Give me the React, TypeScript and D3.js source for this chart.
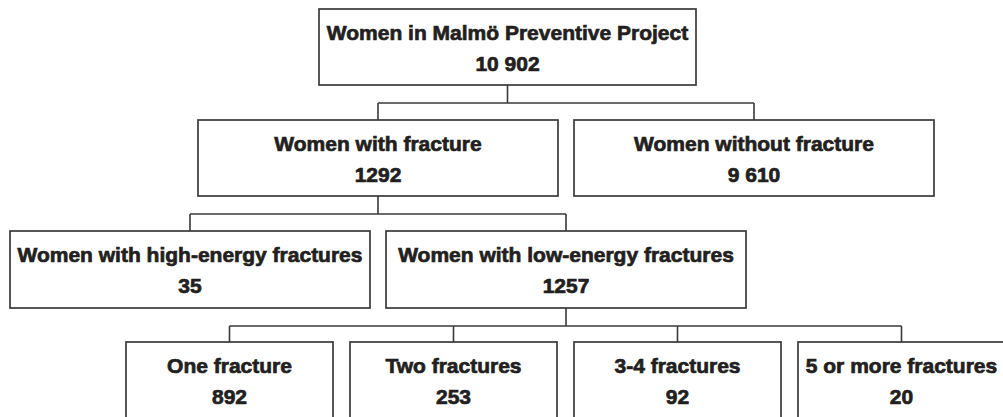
import React from "react";
import * as d3 from "d3";

// ---- Data ----
const level0Labels = ["Women in Malmö Preventive Project"];
const level0Counts = ["10 902"];
const level1Labels = ["Women with fracture", "Women without fracture"];
const level1Counts = ["1292", "9 610"];
const level2Labels = ["Women with high-energy fractures", "Women with low-energy fractures"];
const level2Counts = ["35", "1257"];
const level3Labels = ["One fracture", "Two fractures", "3-4 fractures", "5 or more fractures"];
const level3Counts = ["892", "253", "92", "20"];
// parent index (in the previous level) for each level's nodes
const level1Parents = [0, 0];
const level2Parents = [0, 0];
const level3Parents = [1, 1, 1, 1];

// ---- Layout ----
const W = 1003;
const H = 417;
const levelRanges: [number, number][] = [
  [319, 696],
  [198, 934],
  [10, 746],
  [126, 1005],
];
const levelPadding = [0, 0.0426, 0.0426, 0.0759];
const yLevel = d3.scaleLinear().domain([0, 3]).range([9, 342]);
const BOX_H = 76;
const GAP_MID = 18;

const levels = [
  { labels: level0Labels, counts: level0Counts, parents: [] as number[] },
  { labels: level1Labels, counts: level1Counts, parents: level1Parents },
  { labels: level2Labels, counts: level2Counts, parents: level2Parents },
  { labels: level3Labels, counts: level3Counts, parents: level3Parents },
];

type Box = { x: number; y: number; w: number; h: number; cx: number; label: string; count: string };

const boxes: Box[][] = levels.map((lv, li) => {
  const sc = d3
    .scaleBand<number>()
    .domain(d3.range(lv.labels.length))
    .range(levelRanges[li])
    .paddingInner(levelPadding[li])
    .paddingOuter(0);
  const y = Math.round(yLevel(li));
  return lv.labels.map((label, i) => {
    const x = sc(i)!;
    const w = sc.bandwidth();
    return { x, y, w, h: BOX_H + (li >= 2 ? 1 : 0), cx: x + w / 2, label, count: lv.counts[i] };
  });
});

const TEXT = "#231f20";
const LINE = "#3a3a3a";

export default function App() {
  const connectors: string[] = [];
  for (let li = 1; li < levels.length; li++) {
    const parents = levels[li].parents;
    const groups = d3.group(d3.range(parents.length), (i) => parents[i]);
    groups.forEach((kids, pi) => {
      const p = boxes[li - 1][pi];
      const pb = p.y + p.h;
      const my = pb + GAP_MID;
      const xs = kids.map((k) => boxes[li][k].cx).concat([p.cx]);
      const path = d3.path();
      path.moveTo(p.cx, pb);
      path.lineTo(p.cx, my);
      path.moveTo(d3.min(xs)!, my);
      path.lineTo(d3.max(xs)!, my);
      kids.forEach((k) => {
        const c = boxes[li][k];
        path.moveTo(c.cx, my);
        path.lineTo(c.cx, c.y);
      });
      connectors.push(path.toString());
    });
  }

  const textProps = {
    textAnchor: "middle" as const,
    fontFamily: "'Liberation Sans', Arial, sans-serif",
    fontWeight: "bold",
    fontSize: 21,
    fill: TEXT,
    stroke: TEXT,
    strokeWidth: 0.7,
  };

  return (
    <svg
      width={W}
      height={H}
      viewBox={`0 0 ${W} ${H}`}
      style={{ position: "absolute", left: 0, top: 0, background: "#fff" }}
    >
      <rect width={W} height={H} fill="#fff" />
      {connectors.map((d, i) => (
        <path key={i} d={d} fill="none" stroke={LINE} strokeWidth={1.6} />
      ))}
      {boxes.flat().map((b, i) => (
        <g key={i}>
          <rect x={b.x} y={b.y} width={b.w} height={b.h} fill="#fff" stroke={LINE} strokeWidth={1.7} />
          <text x={b.cx} y={b.y + 31} {...textProps}>
            {b.label}
          </text>
          <text x={b.cx} y={b.y + 62} {...textProps}>
            {b.count}
          </text>
        </g>
      ))}
    </svg>
  );
}
